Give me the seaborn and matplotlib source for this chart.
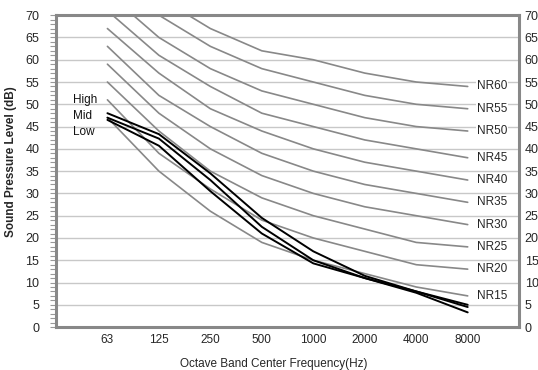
import pandas as pd
import matplotlib.pyplot as plt
import seaborn as sns
from matplotlib.ticker import MultipleLocator

# Datos
freqs = ['63', '125', '250', '500', '1000', '2000', '4000', '8000']

nr15 = [47, 35, 26, 19, 15, 12, 9, 7]
nr20 = [51, 39, 31, 24, 20, 17, 14, 13]
nr25 = [55, 44, 35, 29, 25, 22, 19, 18]
nr30 = [59, 48, 40, 34, 30, 27, 25, 23]
nr35 = [63, 52, 45, 39, 35, 32, 30, 28]
nr40 = [67, 57, 49, 44, 40, 37, 35, 33]
nr45 = [71, 61, 54, 48, 45, 42, 40, 38]
nr50 = [75, 65, 58, 53, 50, 47, 45, 44]
nr55 = [79, 70, 63, 58, 55, 52, 50, 49]
nr60 = [83, 74, 67, 62, 60, 57, 55, 54]

high = [48, 43.3, 34.5, 24.5, 17, 11.5, 8, 5]
mid = [47, 42.3, 33, 22.5, 15, 11, 8, 4.5]
low = [46.5, 40.7, 30.5, 21, 14.3, 11, 7.7, 3.3]

nr_names = ['NR15', 'NR20', 'NR25', 'NR30', 'NR35', 'NR40', 'NR45', 'NR50', 'NR55', 'NR60']
nr_curves = [nr15, nr20, nr25, nr30, nr35, nr40, nr45, nr50, nr55, nr60]
fan_names = ['High', 'Mid', 'Low']
fan_curves = [high, mid, low]

sns.set_theme(style='white')
plt.rcParams['font.family'] = ['Liberation Sans', 'DejaVu Sans']

nr_df = pd.DataFrame({n: v for n, v in zip(nr_names, nr_curves)}, index=freqs)
fan_df = pd.DataFrame({n: v for n, v in zip(fan_names, fan_curves)}, index=freqs)
pos = list(range(len(freqs)))

fig = plt.figure(figsize=(5.38, 3.70), dpi=100)
ax = fig.add_axes([0.104, 0.116, 0.861, 0.843])

for n in nr_names:
    sns.lineplot(x=pos, y=nr_df[n].values, color='#888888', lw=1.2, ax=ax)
for n in fan_names:
    sns.lineplot(x=pos, y=fan_df[n].values, color='black', lw=1.4, ax=ax)

# etiquetas NR a la derecha
for n in nr_names:
    ax.text(pos[-1] + 0.18, nr_df[n].iloc[-1], n, fontsize=8.5, va='center', ha='left',
            bbox=dict(facecolor='white', edgecolor='none', pad=0.5), zorder=5)

# etiquetas High/Mid/Low
for n, yv in zip(fan_names, [50.9, 47.3, 43.8]):
    ax.text(-0.66, yv, n, fontsize=8.5, va='center', ha='left', color='#111111')

ax.set_xlim(-1, len(freqs))
ax.set_ylim(0, 70)
ax.set_xticks(pos)
ax.set_xticklabels(freqs)
ax.yaxis.set_major_locator(MultipleLocator(5))
ax.yaxis.set_minor_locator(MultipleLocator(1))
ax.grid(axis='y', color='#c8c8c8', lw=1)
ax.set_axisbelow(True)

for s in ax.spines.values():
    s.set_color('#888888')
    s.set_linewidth(2.2)

ax.tick_params(axis='x', direction='in', length=4, color='#888888', labelsize=8.5, pad=5)
ax.tick_params(axis='y', which='both', direction='out', length=4, width=0.8, color='#999999',
               left=True, labelsize=9, pad=8)

ax.set_xlabel('Octave Band Center Frequency(Hz)', fontsize=8.5, labelpad=8)
ax.set_ylabel('Sound Pressure Level (dB)', fontsize=8.5, fontweight='bold', labelpad=6)
ax.yaxis.set_label_coords(-0.085, 0.53)
ax.xaxis.set_label_coords(0.47, -0.1)

ax2 = ax.twinx()
ax2.set_ylim(0, 70)
ax2.yaxis.set_major_locator(MultipleLocator(5))
ax2.tick_params(axis='y', length=0, labelsize=9, pad=4)
for s in ax2.spines.values():
    s.set_visible(False)

fig.savefig('out.png', dpi=100)
